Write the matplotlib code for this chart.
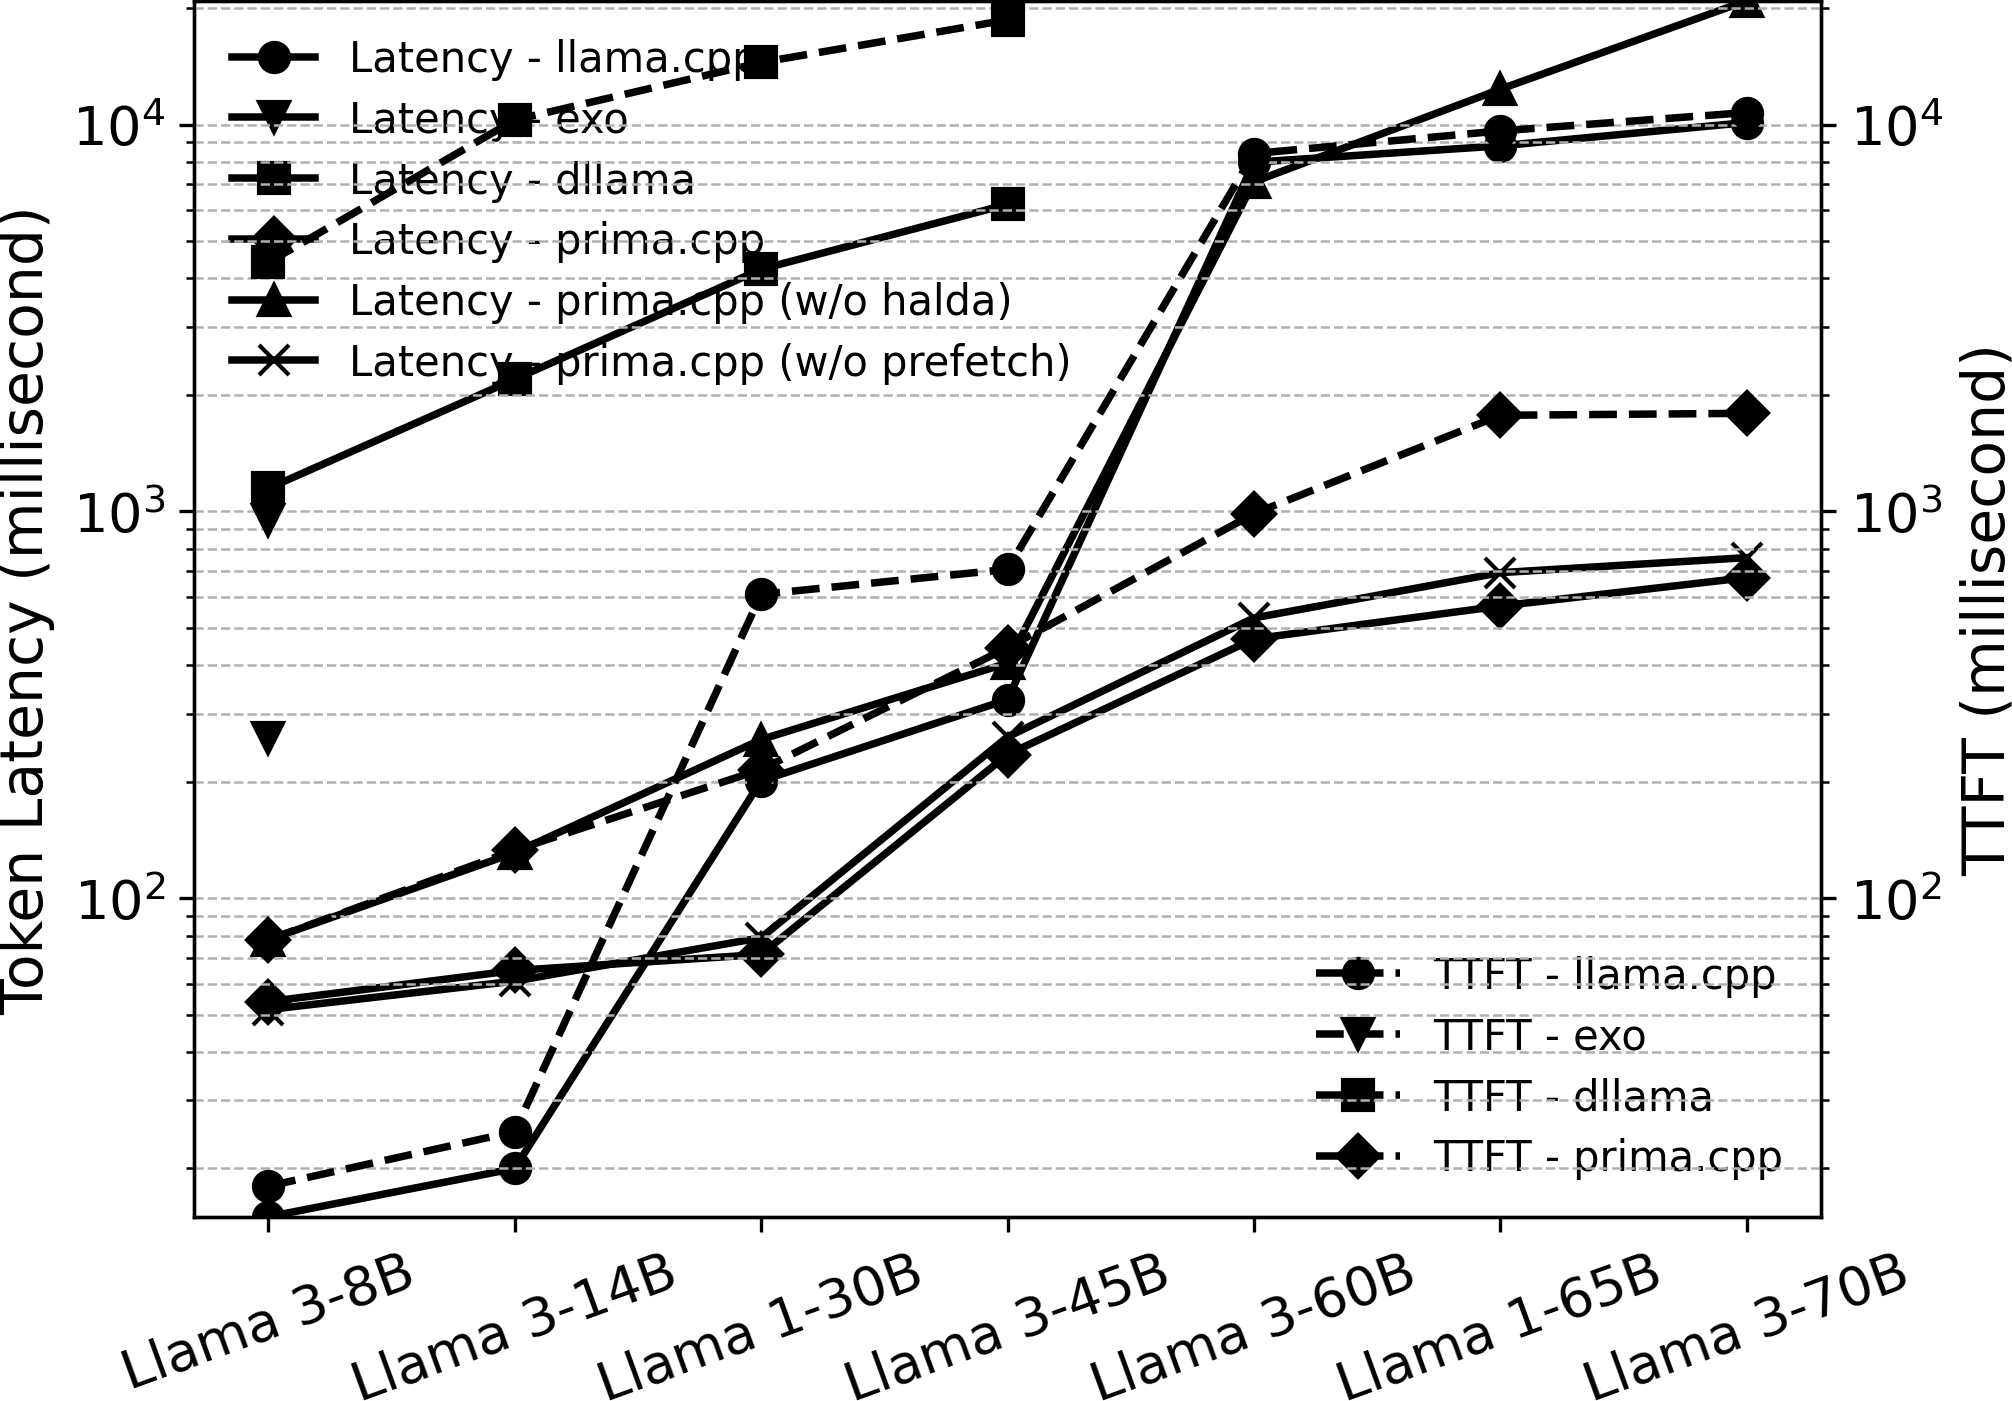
import numpy as np
import matplotlib

matplotlib.use("Agg")
import matplotlib.pyplot as plt

nan = np.nan

models = ["Llama 3-8B", "Llama 3-14B", "Llama 1-30B", "Llama 3-45B",
          "Llama 3-60B", "Llama 1-65B", "Llama 3-70B"]

# token latency (ms)
lat_llama = [15, 20, 201, 326, 7990, 8806, 10120]
lat_exo = [259, nan, nan, nan, nan, nan, nan]
lat_dllama = [1146, 2195, 4225, 6219, nan, nan, nan]
lat_prima = [54, 65, 71.5, 235, 468, 569, 674]
lat_no_halda = [78, 131, 257, 405, 7110, 12340, 20900]
lat_no_prefetch = [51.5, 61, 79, 261, 530, 694, 759]

# time to first token (ms)
ttft_llama = [18, 24.9, 610, 708, 8413, 9627, 10740]
ttft_exo = [951, nan, nan, nan, nan, nan, nan]
ttft_dllama = [4400, 10270, 14470, 18640, nan, nan, nan]
ttft_prima = [78, 133, 215, 444, 986, 1771, 1792]

LW = 1.8
MS = 7

fig, ax1 = plt.subplots(figsize=(2012 / 300, 1402 / 300), dpi=300)
fig.subplots_adjust(left=0.0966, right=0.9049, bottom=0.1314, top=0.9988)
ax2 = ax1.twinx()
x = np.arange(len(models))

lat_series = [
    (lat_llama, "o", "Latency - llama.cpp"),
    (lat_exo, "v", "Latency - exo"),
    (lat_dllama, "s", "Latency - dllama"),
    (lat_prima, "D", "Latency - prima.cpp"),
    (lat_no_halda, "^", "Latency - prima.cpp (w/o halda)"),
    (lat_no_prefetch, "x", "Latency - prima.cpp (w/o prefetch)"),
]
for vals, mk, lab in lat_series:
    ax1.plot(x, vals, linestyle="-", marker=mk, color="black", lw=LW,
             markersize=MS, label=lab)

ttft_series = [
    (ttft_llama, "o", "TTFT - llama.cpp"),
    (ttft_exo, "v", "TTFT - exo"),
    (ttft_dllama, "s", "TTFT - dllama"),
    (ttft_prima, "D", "TTFT - prima.cpp"),
]
for vals, mk, lab in ttft_series:
    ax2.plot(x, vals, linestyle="--", marker=mk, color="black", lw=LW,
             markersize=MS, label=lab)

ymin = np.nanmin(lat_llama)
ymax = np.nanmax(lat_no_halda)
for ax in (ax1, ax2):
    ax.set_yscale("log")
    ax.set_ylim(ymin, ymax)
    ax.tick_params(axis="y", labelsize=13)

ax2.grid(axis="y", which="both", linestyle="--", color="#b0b0b0", lw=0.6)

ax1.set_xticks(x)
ax1.set_xticklabels(models, rotation=20, fontsize=13)
ax1.set_ylabel("Token Latency (millisecond)", fontsize=14)
ax2.set_ylabel("TTFT (millisecond)", fontsize=14)

leg1 = ax1.legend(loc="upper left", frameon=False, fontsize=10,
                  labelspacing=0.45)
leg1.set_zorder(0)
ax1.add_artist(leg1)
leg2 = ax1.legend(handles=ax2.get_lines(), loc="lower right", frameon=False,
                  fontsize=10, labelspacing=0.45)
leg2.set_zorder(0)

fig.savefig("out.png", dpi=300)
plt.close(fig)
